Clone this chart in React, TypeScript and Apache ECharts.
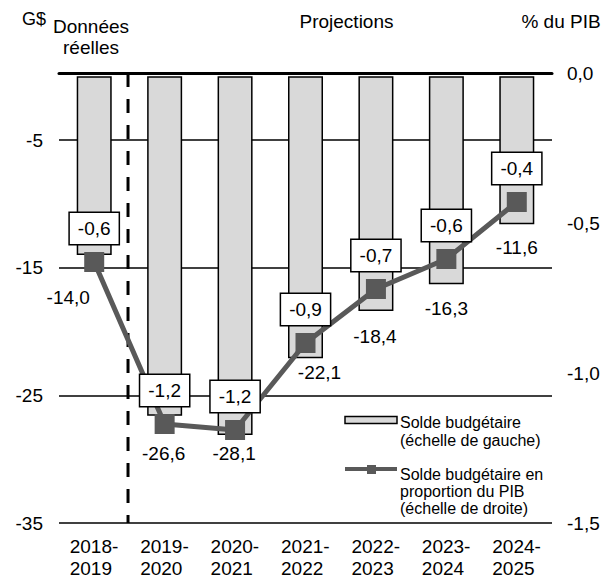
import React, { useEffect, useRef } from 'react';
import * as echarts from 'echarts';

// ---- Data ----
const categories = ['2018-2019', '2019-2020', '2020-2021', '2021-2022', '2022-2023', '2023-2024', '2024-2025'];
// Budgetary balance, billions of dollars (left scale)
const budgetBalance = [-14.0, -26.6, -28.1, -22.1, -18.4, -16.3, -11.6];
// Budgetary balance as a share of GDP, % (right scale)
const balanceShareGdp = [-0.63, -1.17, -1.19, -0.9, -0.72, -0.62, -0.43];
// Axis tick settings
const leftAxisMin = -35;
const leftAxisMax = 0.25;
const leftAxisStep = 10;
const rightAxisMin = -1.5;
const rightAxisMax = 0;
const rightAxisStep = 0.5;
// Actual / projection divider (in category units from the left edge)
const dividerAt = 0.98;

// ---- Layout of bar value labels (pixel offsets) ----
const barLabelOffsets: [number, number][] = [
  [-26, 33],
  [-1, 28],
  [-1, 9],
  [14, 5],
  [-1, 16],
  [0, 15],
  [0, 14],
];

const FONT = 'Arial, "Liberation Sans", sans-serif';
const BAR_COLOR = '#d9d9d9';
const LINE_COLOR = '#595959';
const barName = 'Solde budgétaire\n(échelle de gauche)';
const lineName = 'Solde budgétaire en\nproportion du PIB\n(échelle de droite)';
const fmt1 = (v: number) => v.toFixed(1).replace('.', ',');

export default function App() {
  const ref = useRef<HTMLDivElement>(null);

  useEffect(() => {
    if (!ref.current) return;
    const chart = echarts.init(ref.current, undefined, { renderer: 'svg' });
    const legendTextStyle = (text: string, lh: number) => ({
      text,
      fontSize: 16,
      lineHeight: lh,
      fontFamily: FONT,
      fill: '#000',
      align: 'left',
      verticalAlign: 'top',
    });
    const option: any = {
      animation: false,
      backgroundColor: '#fff',
      textStyle: { fontFamily: FONT },
      grid: { left: 59, right: 51, top: 73, bottom: 64, containLabel: false },
      xAxis: [
        {
          type: 'category',
          data: categories,
          position: 'bottom',
          axisLine: { show: false, onZero: false },
          axisTick: { show: false },
          splitLine: { show: false },
          axisLabel: {
            margin: 12,
            formatter: (c: string) => {
              const [a, b] = c.split('-');
              return `{y|${a}-}\n{y|${b}}`;
            },
            rich: {
              y: { width: 49, align: 'left', fontSize: 19, lineHeight: 22, color: '#000', fontFamily: FONT },
            },
          },
        },
        {
          type: 'value',
          min: 0,
          max: categories.length,
          position: 'top',
          axisLine: { show: true, onZero: false, lineStyle: { color: '#000', width: 3 } },
          axisTick: { show: false },
          axisLabel: { show: false },
          splitLine: { show: false },
        },
      ],
      yAxis: [
        {
          type: 'value',
          min: leftAxisMin,
          max: leftAxisMax,
          interval: leftAxisStep,
          position: 'left',
          axisLine: { show: false },
          axisTick: { show: false },
          axisLabel: {
            showMaxLabel: false,
            fontSize: 19,
            color: '#000',
            margin: 16,
            fontFamily: FONT,
            formatter: (v: number) => String(v),
          },
          splitLine: { show: true, lineStyle: { color: '#000', width: 1.5 } },
        },
        {
          type: 'value',
          min: rightAxisMin,
          max: rightAxisMax,
          interval: rightAxisStep,
          position: 'right',
          axisLine: { show: false },
          axisTick: { show: false },
          splitLine: { show: false },
          axisLabel: {
            fontSize: 19,
            color: '#000',
            margin: 15,
            fontFamily: FONT,
            formatter: (v: number) => fmt1(v),
          },
        },
      ],
      legend: { show: false },
      graphic: [
        {
          type: 'text',
          x: 22,
          y: 19,
          style: { text: 'G$', fontSize: 18, fontFamily: FONT, fill: '#000', align: 'left', verticalAlign: 'middle' },
        },
        {
          type: 'text',
          x: 91,
          y: 36.5,
          style: {
            text: 'Données\nréelles',
            fontSize: 19,
            lineHeight: 21,
            fontFamily: FONT,
            fill: '#000',
            align: 'center',
            verticalAlign: 'middle',
          },
        },
        {
          type: 'text',
          x: 346.5,
          y: 21.5,
          style: { text: 'Projections', fontSize: 19, fontFamily: FONT, fill: '#000', align: 'center', verticalAlign: 'middle' },
        },
        {
          type: 'text',
          x: 561,
          y: 21.5,
          style: { text: '% du PIB', fontSize: 19, fontFamily: FONT, fill: '#000', align: 'center', verticalAlign: 'middle' },
        },
        // Legend: bar entry
        {
          type: 'rect',
          shape: { x: 345, y: 416.5, width: 52, height: 7 },
          style: { fill: BAR_COLOR, stroke: '#000', lineWidth: 1.5 },
        },
        {
          type: 'text',
          x: 400,
          y: 413,
          style: legendTextStyle(barName, 18),
        },
        // Legend: line entry
        {
          type: 'line',
          shape: { x1: 345, y1: 469, x2: 397, y2: 469 },
          style: { stroke: LINE_COLOR, lineWidth: 4 },
        },
        {
          type: 'rect',
          shape: { x: 367, y: 465, width: 9, height: 9 },
          style: { fill: LINE_COLOR },
        },
        {
          type: 'text',
          x: 400,
          y: 466,
          style: legendTextStyle(lineName, 17),
        },
      ],
      series: [
        {
          name: barName,
          type: 'bar',
          xAxisIndex: 0,
          yAxisIndex: 0,
          barWidth: 35,
          itemStyle: { color: BAR_COLOR, borderColor: '#000', borderWidth: 1.5 },
          label: {
            show: true,
            position: 'bottom',
            distance: 0,
            fontSize: 19,
            lineHeight: 19,
            color: '#000',
            fontFamily: FONT,
            formatter: (p: any) => fmt1(p.value),
          },
          data: budgetBalance.map((v, i) => ({ value: v, label: { offset: barLabelOffsets[i] } })),
          z: 2,
        },
        {
          name: 'divider',
          type: 'line',
          xAxisIndex: 1,
          yAxisIndex: 0,
          data: [
            [dividerAt, leftAxisMax],
            [dividerAt, leftAxisMin],
          ],
          symbol: 'none',
          silent: true,
          lineStyle: { color: '#000', width: 3, type: [14, 12] },
          z: 2,
        },
        {
          name: lineName,
          type: 'line',
          xAxisIndex: 0,
          yAxisIndex: 1,
          data: balanceShareGdp,
          symbol: 'rect',
          symbolSize: 20,
          itemStyle: { color: LINE_COLOR },
          lineStyle: { color: LINE_COLOR, width: 5 },
          label: {
            show: true,
            position: 'top',
            distance: 8,
            fontSize: 19,
            lineHeight: 19,
            color: '#000',
            fontFamily: FONT,
            backgroundColor: '#fff',
            borderColor: '#000',
            borderWidth: 1.5,
            padding: [6, 8],
            formatter: (p: any) => fmt1(p.value),
          },
          z: 3,
        },
      ],
    };
    chart.setOption(option);
    return () => chart.dispose();
  }, []);

  return <div ref={ref} style={{ position: 'absolute', left: 0, top: 0, width: 603, height: 587 }} />;
}
